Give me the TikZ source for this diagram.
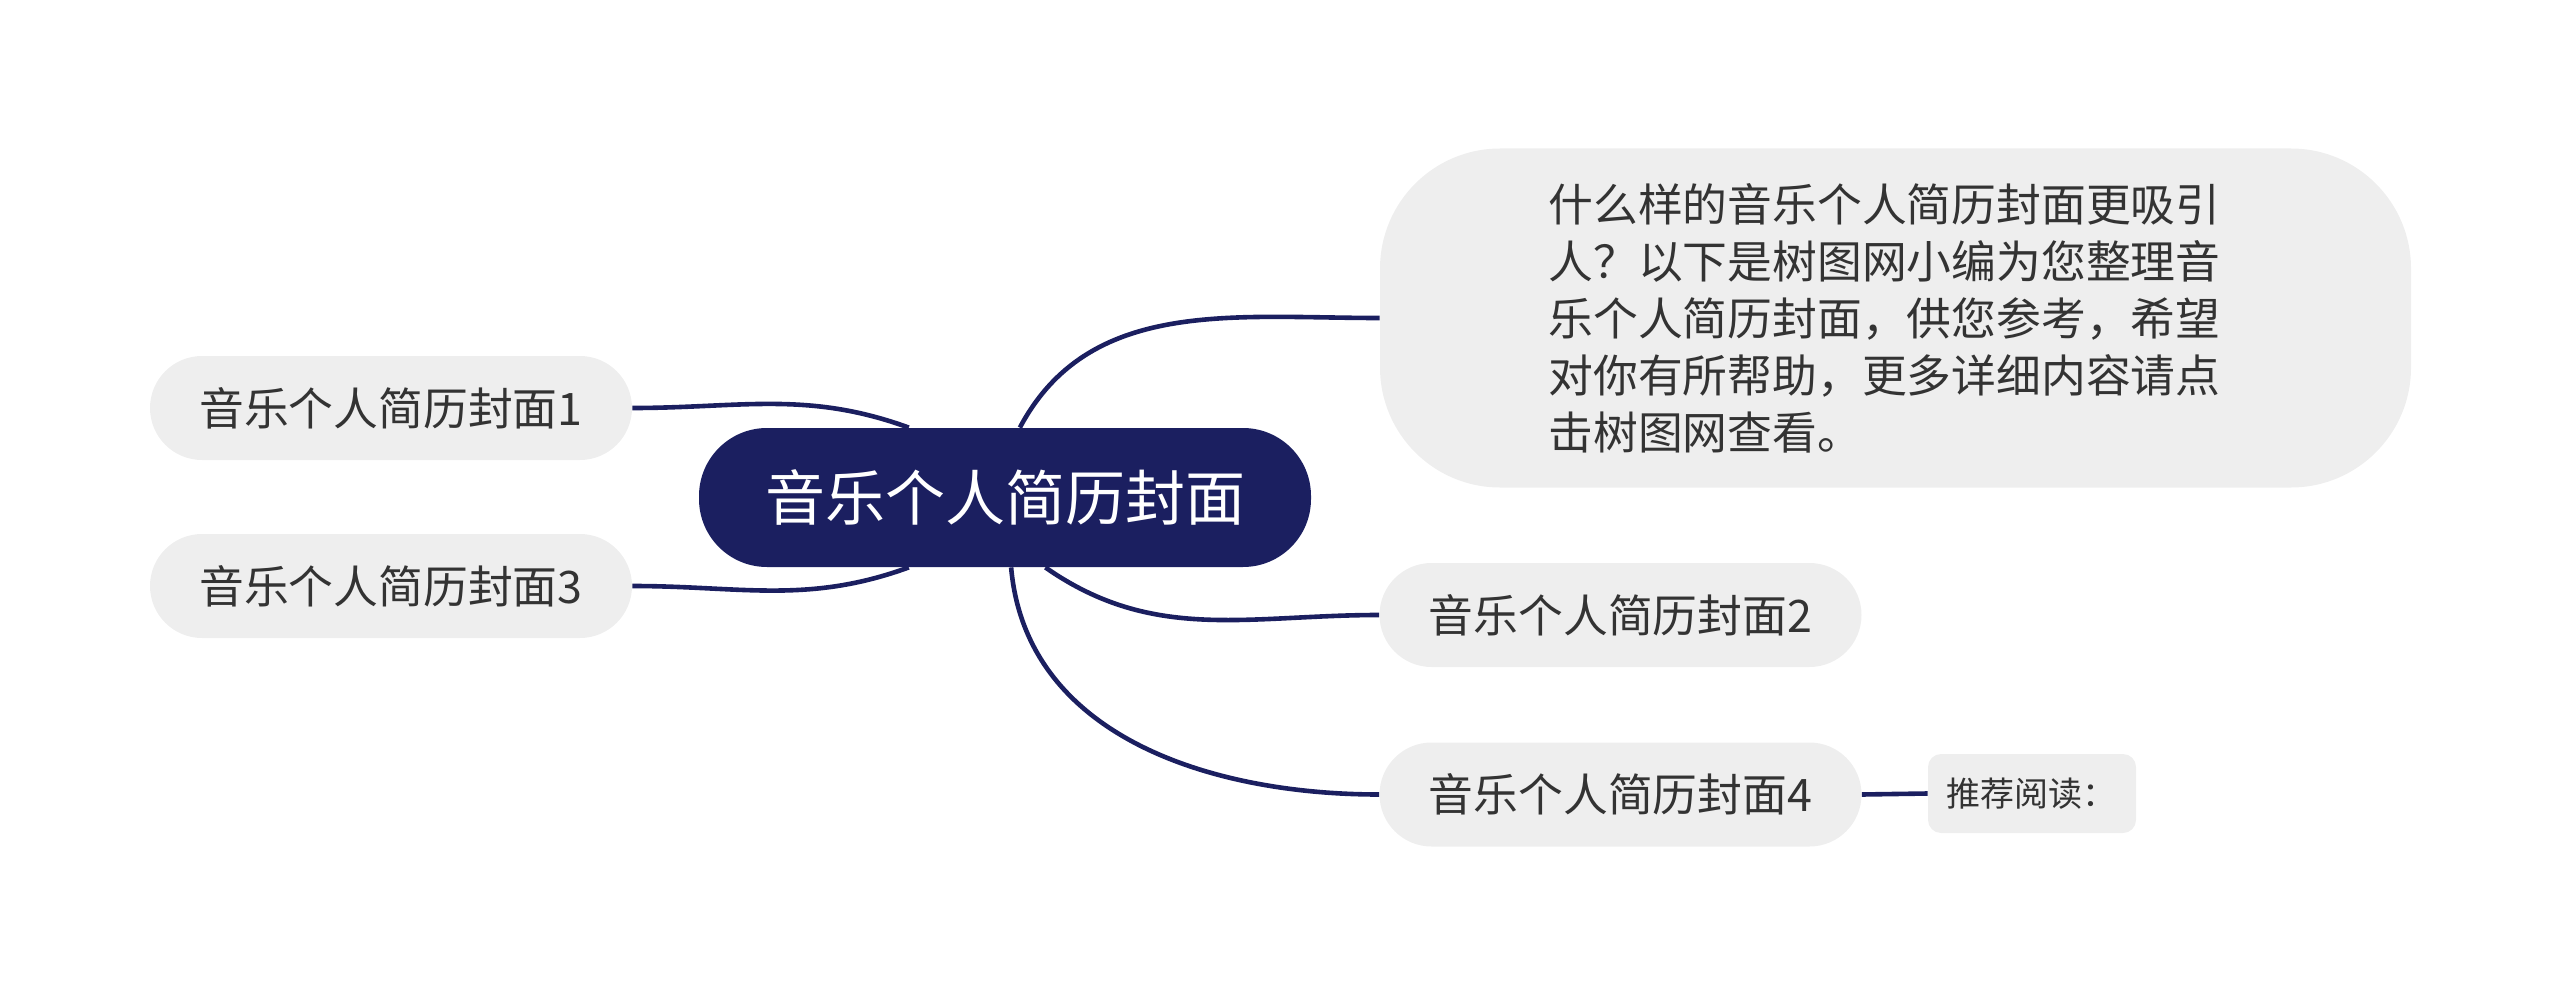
\documentclass[tikz,border=0pt]{standalone}
\usepackage{fontspec}
\setmainfont{Noto Sans CJK SC}

\definecolor{bleunuit}{RGB}{27,31,96}
\definecolor{grisclair}{RGB}{238,238,238}
\definecolor{texte}{RGB}{51,51,51}

\begin{document}
\begin{tikzpicture}[x=0.5pt, y=-0.5pt,
  racine/.style={fill=bleunuit, text=white, inner sep=0pt,
    minimum width=306pt, minimum height=69.5pt, rounded corners=34pt,
    font=\fontsize{30}{34}\selectfont},
  branche/.style={fill=grisclair, text=texte, inner sep=0pt,
    minimum width=241pt, minimum height=52pt, rounded corners=26pt,
    font=\fontsize{22.4}{26}\selectfont},
  texteLong/.style={fill=grisclair, text=texte, inner sep=0pt,
    minimum width=515.5pt, minimum height=169.5pt, rounded corners=60pt,
    text width=347pt, align=left,
    font=\fontsize{22.4}{28.5}\selectfont},
  lecture/.style={fill=grisclair, text=texte, inner xsep=9pt, inner ysep=0pt,
    text width=86pt, align=left, minimum height=39.5pt, rounded corners=6.5pt,
    font=\fontsize{17}{20}\selectfont},
  lien/.style={bleunuit, line width=2.3pt}]

  % Cadre
  \useasboundingbox (0,0) rectangle (2560,995);

  % Noeuds
  \node[racine] (racine) at (1005,497.5) {音乐个人简历封面};
  \node[branche] (b1) at (391,408) {音乐个人简历封面1};
  \node[branche] (b3) at (391,586) {音乐个人简历封面3};
  \node[texteLong] (desc) at (1895.5,318) {什么样的音乐个人简历封面更吸引\\人？以下是树图网小编为您整理音\\乐个人简历封面，供您参考，希望\\对你有所帮助，更多详细内容请点\\击树图网查看。};
  \node[branche] (b2) at (1620.5,615) {音乐个人简历封面2};
  \node[branche] (b4) at (1620.5,794.5) {音乐个人简历封面4};
  \node[lecture] (lire) at (2032,793.5) {推荐阅读：};

  % Liens
  \draw[lien] (racine.78) to[out=62, in=180] (desc.west);
  \draw[lien] (racine.144) to[out=160, in=0] (b1.east);
  \draw[lien] (racine.216) to[out=200, in=0] (b3.east);
  \draw[lien] (racine.300) to[out=-35, in=180] (b2.west);
  \draw[lien] (racine.275) to[out=-85, in=180] (b4.west);
  \draw[lien] (b4.east) -- (lire.west);

\end{tikzpicture}
\end{document}
